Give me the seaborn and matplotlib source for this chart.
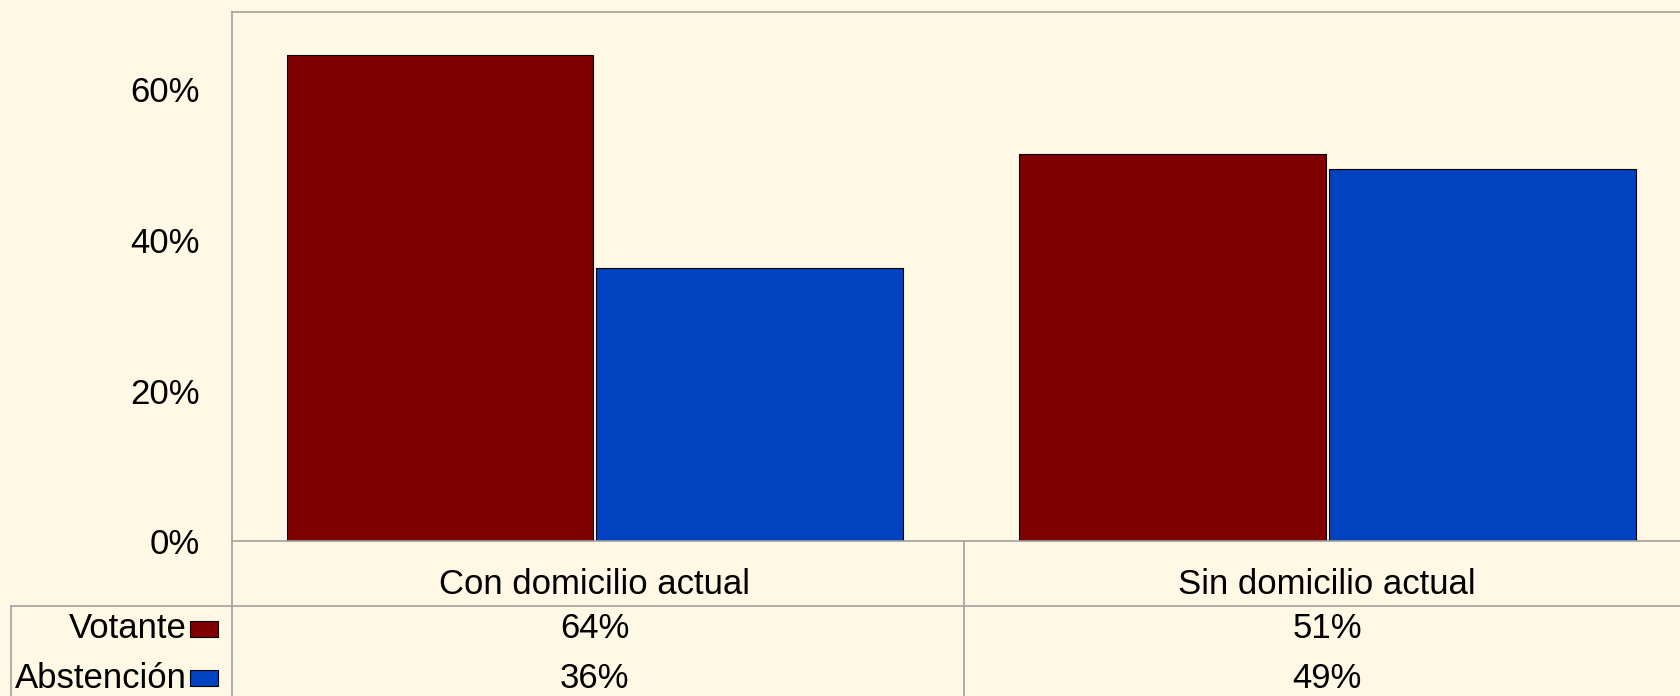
import pandas as pd
import seaborn as sns
import matplotlib.pyplot as plt
from matplotlib.lines import Line2D
from matplotlib.patches import Rectangle
from matplotlib.ticker import PercentFormatter

categorias = ["Con domicilio actual", "Sin domicilio actual"]
series = ["Votante", "Abstención"]
votante = [64.5, 51.4]
abstencion = [36.3, 49.4]
etiquetas_votante = ["64%", "51%"]
etiquetas_abstencion = ["36%", "49%"]
yticks = [0, 20, 40, 60]

fondo = "#FEF8E4"
colores = ["#800000", "#0042BF"]
gris = "#A0A0A0"

df = pd.DataFrame({
    "categoria": categorias * 2,
    "serie": [series[0]] * 2 + [series[1]] * 2,
    "valor": votante + abstencion,
})

sns.set_style("white")
plt.rcParams["font.family"] = ["Liberation Sans", "DejaVu Sans"]
plt.rcParams["text.color"] = "black"
plt.rcParams["ytick.color"] = "black"

W, H = 1681, 696
fig = plt.figure(figsize=(W / 100, H / 100), dpi=100, facecolor=fondo)
left, top, base = 231.6, 11.8, 541.4
ax = fig.add_axes([left / W, 1 - base / H, 1 - left / W, (base - top) / H])
ax.set_facecolor(fondo)

sns.barplot(data=df, x="categoria", y="valor", hue="serie", order=categorias,
            hue_order=series, palette=colores, saturation=1, width=0.846,
            gap=0.01, edgecolor="black", linewidth=0.8, legend=False, ax=ax)

ax.set_xlim(-0.496, 1.483)
ax.set_ylim(0, 70.3)
ax.set_yticks(yticks)
ax.yaxis.set_major_formatter(PercentFormatter(decimals=0))
ax.tick_params(axis="y", length=0, pad=23, labelsize=25, labelcolor="black")
ax.set_xticks([])
ax.set_xlabel("")
ax.set_ylabel("")
for s in ["top", "left", "bottom"]:
    ax.spines[s].set_color(gris)
    ax.spines[s].set_linewidth(1.2)
ax.spines["right"].set_visible(False)

# tabla de datos bajo el gráfico
def fy(px):
    return 1 - px / H

row_line = 605.7
leg_left = 10.7
div_x = 963.8
lines = [
    ([left / W, left / W], [fy(base), 0]),
    ([div_x / W, div_x / W], [fy(base), 0]),
    ([leg_left / W, 1], [fy(row_line), fy(row_line)]),
    ([leg_left / W, leg_left / W], [fy(row_line), 0]),
]
for xs, ys in lines:
    fig.add_artist(Line2D(xs, ys, color=gris, lw=1.2))

tr = ax.get_xaxis_transform()
axh = base - top
for i, cat in enumerate(categorias):
    ax.text(i, (base - 585) / axh, cat, transform=tr, ha="center", va="center",
            fontsize=25, color="black", clip_on=False)
    ax.text(i, (base - 629) / axh, etiquetas_votante[i], transform=tr,
            ha="center", va="center", fontsize=25, color="black", clip_on=False)
    ax.text(i, (base - 678) / axh, etiquetas_abstencion[i], transform=tr,
            ha="center", va="center", fontsize=25, color="black", clip_on=False)

for j, (nombre, color) in enumerate(zip(series, colores)):
    yc = [629, 678][j]
    fig.text(187 / W, fy(yc), nombre, ha="right", va="center", fontsize=25,
             color="black")
    fig.add_artist(Rectangle((190 / W, fy(yc + 8)), 28 / W, 16 / H,
                             facecolor=color, edgecolor="black", lw=0.8))

fig.savefig("out.png", dpi=100, facecolor=fondo)
